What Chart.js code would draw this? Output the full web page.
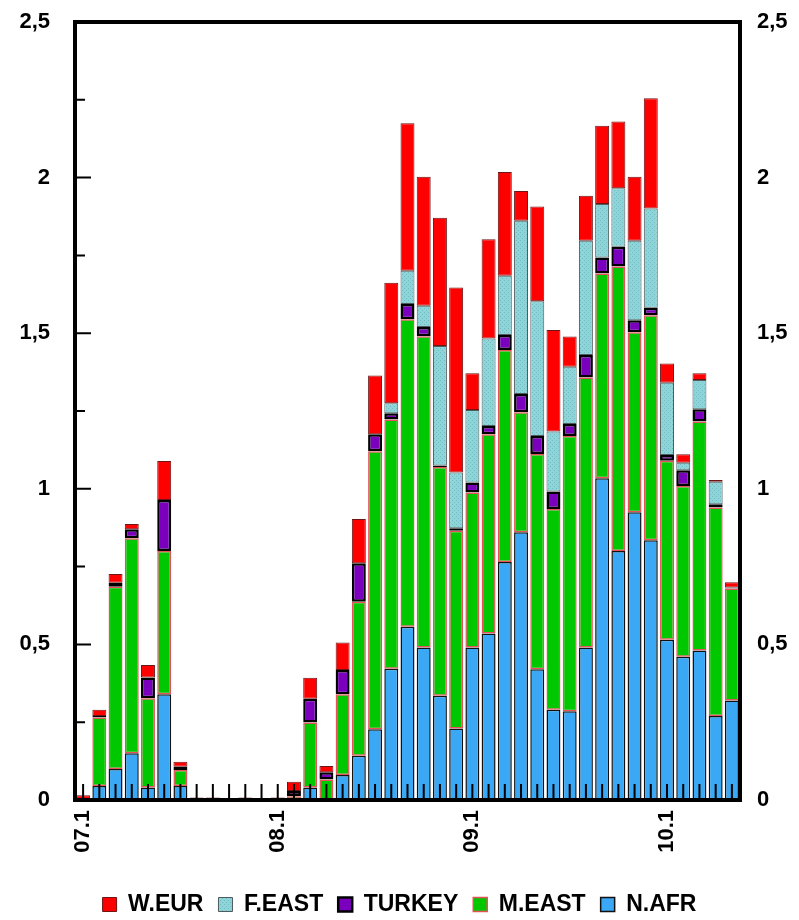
<!DOCTYPE html>
<html>
<head>
<meta charset="utf-8">
<title>Exports by region</title>
<script src="https://cdn.jsdelivr.net/npm/chart.js@4.4.1/dist/chart.umd.min.js"></script>
<style>
  body { margin: 0; background: #fff; }
  canvas { display: block; }
</style>
</head>
<body>
<canvas id="chart" width="799" height="920"></canvas>
<script>
// monthly categories, Jan 2007 .. May 2010
const months = [
  '07.1', '07.2', '07.3', '07.4', '07.5', '07.6', '07.7', '07.8', '07.9', '07.10', '07.11', '07.12',
  '08.1', '08.2', '08.3', '08.4', '08.5', '08.6', '08.7', '08.8', '08.9', '08.10', '08.11', '08.12',
  '09.1', '09.2', '09.3', '09.4', '09.5', '09.6', '09.7', '09.8', '09.9', '09.10', '09.11', '09.12',
  '10.1', '10.2', '10.3', '10.4', '10.5'
]
const shownMonths = ['07.1', '08.1', '09.1', '10.1']
const yTicks = [0, 0.5, 1, 1.5, 2, 2.5]

// series, bottom of the stack first
const nAfr = [0, 0.045, 0.10, 0.15, 0.04, 0.34, 0.045, 0, 0, 0, 0, 0,
  0, 0, 0.04, 0, 0.08, 0.142, 0.227, 0.422, 0.557, 0.49, 0.335, 0.23,
  0.49, 0.535, 0.765, 0.86, 0.42, 0.29, 0.285, 0.49, 1.034, 0.80, 0.925, 0.835,
  0.515, 0.46, 0.48, 0.27, 0.32]
const mEast = [0.003, 0.22, 0.585, 0.691, 0.287, 0.46, 0.051, 0, 0, 0, 0, 0,
  0, 0.012, 0.209, 0.066, 0.26, 0.495, 0.894, 0.801, 0.988, 1.0, 0.735, 0.635,
  0.498, 0.64, 0.681, 0.386, 0.692, 0.645, 0.885, 0.868, 0.658, 0.914, 0.578, 0.723,
  0.575, 0.549, 0.736, 0.67, 0.36]
const turkey = [0, 0.005, 0.013, 0.029, 0.067, 0.164, 0.011, 0, 0, 0, 0, 0,
  0, 0.017, 0.076, 0.023, 0.078, 0.124, 0.054, 0.02, 0.049, 0.03, 0.005, 0.008,
  0.032, 0.027, 0.048, 0.059, 0.058, 0.056, 0.038, 0.072, 0.051, 0.064, 0.039, 0.024,
  0.019, 0.051, 0.04, 0.01, 0.003]
const fEast = [0, 0, 0, 0, 0, 0, 0, 0, 0, 0, 0, 0,
  0, 0, 0, 0, 0, 0, 0, 0.032, 0.107, 0.068, 0.384, 0.179,
  0.233, 0.281, 0.191, 0.556, 0.433, 0.193, 0.184, 0.367, 0.172, 0.188, 0.255, 0.319,
  0.232, 0.024, 0.094, 0.073, 0]
const wEur = [0.012, 0.02, 0.028, 0.017, 0.04, 0.125, 0.016, 0.008, 0.008, 0, 0.008, 0,
  0.008, 0.03, 0.068, 0.02, 0.088, 0.142, 0.189, 0.387, 0.474, 0.415, 0.412, 0.595,
  0.118, 0.319, 0.333, 0.096, 0.304, 0.326, 0.097, 0.145, 0.252, 0.214, 0.206, 0.354,
  0.062, 0.027, 0.021, 0.005, 0.017]

const font = { family: "'Liberation Sans', Arial, sans-serif", size: 22, weight: 'bold' }
const legendFont = { family: "'Liberation Sans', Arial, sans-serif", size: 23, weight: 'bold' }

// fine dotted fill for F.EAST
function dotted() {
  let c = document.createElement('canvas')
  c.width = 4
  c.height = 4
  let g = c.getContext('2d')
  g.fillStyle = '#8ed4d8'
  g.fillRect(0, 0, 4, 4)
  g.fillStyle = '#6cbcc1'
  g.fillRect(0, 0, 1, 1)
  g.fillRect(2, 2, 1, 1)
  return g.createPattern(c, 'repeat')
}

function commaLabel(v) {
  return String(v).replace('.', ',')
}

// thick frame plus inward tick marks
const frame = {
  id: 'frame',
  afterDatasetsDraw(chart) {
    const { ctx, chartArea: a, scales } = chart
    const x = scales.x, y = scales.y
    ctx.save()
    ctx.strokeStyle = '#000'
    ctx.lineWidth = 2
    ctx.beginPath()
    for (let v = 0.25; v < 2.5; v += 0.25) {
      const py = y.getPixelForValue(v)
      const len = (v * 2) % 1 === 0 ? 16 : 10
      ctx.moveTo(a.left, py)
      ctx.lineTo(a.left + len, py)
    }
    months.forEach((m, i) => {
      const px = x.getPixelForValue(i)
      ctx.moveTo(px, a.bottom)
      ctx.lineTo(px, a.bottom - 16)
    })
    ctx.stroke()
    ctx.lineWidth = 4
    ctx.strokeRect(a.left, a.top, a.right - a.left, a.bottom - a.top)
    ctx.restore()
  }
}

function series(label, data, bg, border, width) {
  return {
    label: label,
    data: data,
    backgroundColor: bg,
    borderColor: border,
    borderWidth: width,
    borderSkipped: false,
    barPercentage: 0.86,
    categoryPercentage: 1
  }
}

const yAxis = (position, pad, w) => ({
  position: position,
  stacked: true,
  min: 0,
  max: 2.5,
  afterBuildTicks(s) { s.ticks = yTicks.map(v => ({ value: v })) },
  ticks: { font: font, color: '#000', padding: pad, callback: commaLabel },
  grid: { display: false, drawTicks: false },
  border: { display: false },
  afterFit(s) {
    s.width = w
    s.paddingTop = 0
    s.paddingBottom = 0
  }
})

new Chart(document.getElementById('chart'), {
  type: 'bar',
  data: {
    labels: months,
    datasets: [
      series('N.AFR', nAfr, '#3aa8f4', '#111', 1.5),
      series('M.EAST', mEast, '#00c800', '#e5525a', 1.5),
      series('TURKEY', turkey, '#7a00bd', '#000', 2.5),
      series('F.EAST', fEast, dotted(), '#4f5b5c', 1),
      series('W.EUR', wEur, '#ff0000', '#6e1515', 1)
    ]
  },
  options: {
    responsive: false,
    animation: false,
    layout: { padding: { top: 22, bottom: -6, left: 0, right: 0 } },
    plugins: {
      tooltip: { enabled: false },
      legend: {
        position: 'bottom',
        reverse: true,
        labels: { font: legendFont, color: '#000', boxWidth: 14, boxHeight: 14, padding: 15 }
      }
    },
    scales: {
      x: {
        stacked: true,
        offset: true,
        grid: { display: false, drawTicks: false },
        border: { display: false },
        ticks: {
          font: font,
          color: '#000',
          autoSkip: false,
          minRotation: 90,
          maxRotation: 90,
          padding: 10,
          callback: (v, i) => shownMonths.includes(months[i]) ? months[i] : ''
        },
        afterFit(s) { s.height = 78 }
      },
      y: yAxis('left', 25, 75),
      y2: yAxis('right', 17, 59)
    }
  },
  plugins: [frame]
})
</script>
</body>
</html>
